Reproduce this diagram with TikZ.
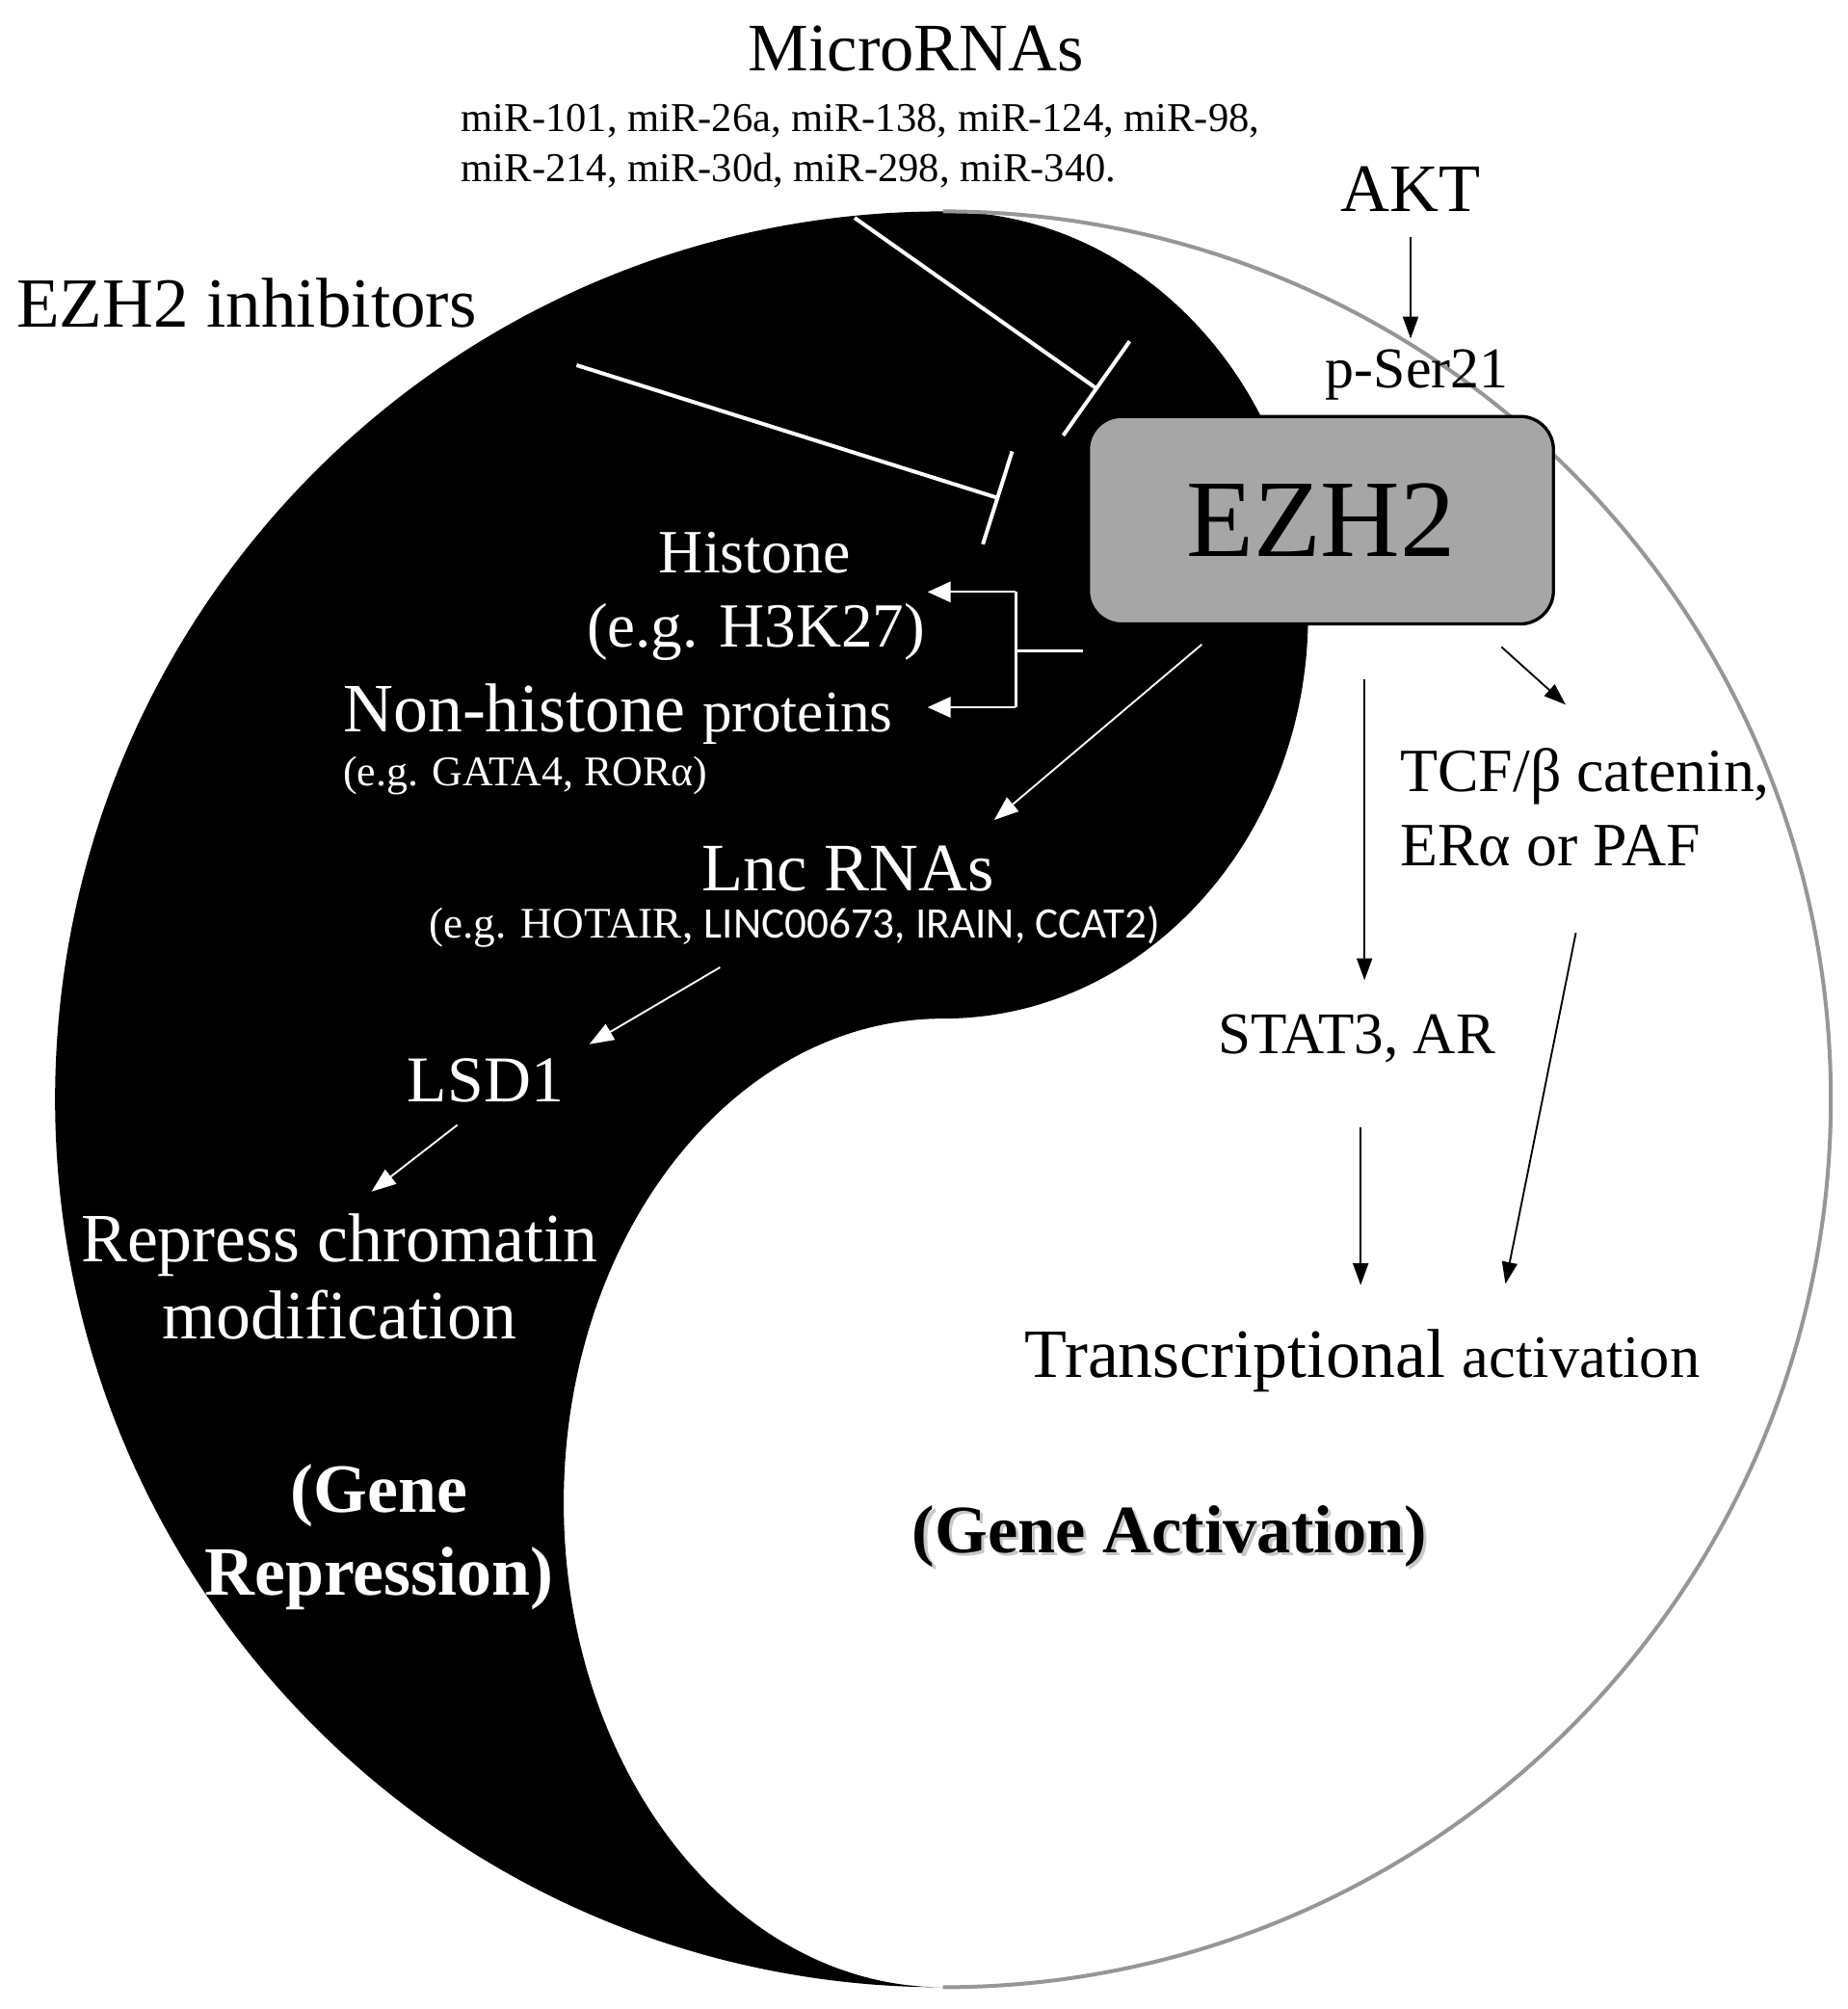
\documentclass[tikz,border=0pt]{standalone}
\usepackage{fontspec}
\setmainfont{Liberation Serif}
\newfontfamily\calib{Carlito}
\usetikzlibrary{arrows.meta}
\definecolor{ezgray}{RGB}{166,166,166}
\definecolor{ringgray}{RGB}{150,150,150}
\newcommand\fsz[1]{\fontsize{#1}{#1}\selectfont}
\begin{document}
\begin{tikzpicture}[x=1pt,y=-1pt,
  lbl/.style={inner sep=0pt, outer sep=0pt},
  wl/.style={lbl, text=white},
  bl/.style={lbl, text=black},
  inhib/.style={white, line width=3pt, -{Bar[width=#1, line width=3pt]}},
  warrow/.style={white, line width=1.4pt, -{Triangle[length=19pt, width=14pt]}},
  wbrarrow/.style={white, line width=1.6pt, -{Triangle[length=18pt, width=16pt]}},
  barrow/.style={black, line width=1.4pt, -{Triangle[length=17pt, width=12pt]}},
  ezbox/.style={draw=black, line width=2.5pt, fill=ezgray, rounded corners=26pt,
    minimum width=363pt, minimum height=162pt, inner sep=0pt},
]
\useasboundingbox (0,0) rectangle (1442,1568);
\fill[white] (0,0) rectangle (1442,1568);

% yin-yang
\fill[black] (736,165) arc[start angle=270, end angle=90, radius=693]
  arc[start angle=90, end angle=270, x radius=296, y radius=378]
  arc[start angle=90, end angle=-90, x radius=285, y radius=315] -- cycle;
\draw[ringgray, line width=3pt] (736,165) arc[start angle=-90, end angle=90, radius=693];

% EZH2 box
\node[ezbox, font=\fsz{86}] (ezh2) at (1031,406) {EZH2};

% top labels
\node[bl, font=\fsz{53}, anchor=base] (micro) at (715,55) {MicroRNAs};
\node[bl, font=\fsz{32}, anchor=base west] (mirsA) at (360,103)
  {miR-101, miR-26a, miR-138, miR-124, miR-98,};
\node[bl, font=\fsz{32}, anchor=base west] (mirsB) at (360,142)
  {miR-214, miR-30d, miR-298, miR-340.};
\node[bl, font=\fsz{53}, anchor=base] (akt) at (1101,165) {AKT};
\node[bl, font=\fsz{45}, anchor=base] (pser) at (1106,303) {p-Ser21};
\node[bl, font=\fsz{55}, anchor=base west] (inhtxt) at (13,255) {EZH2 inhibitors};

% repression side labels
\node[wl, font=\fsz{48}, anchor=base] (histone) at (589,447) {Histone};
\node[wl, font=\fsz{49}, anchor=base] (h3k27) at (590,505) {(e.g. H3K27)};
\node[wl, font=\fsz{54}, anchor=base west] (nonhist) at (268,571) {Non-histone {\fsz{46}proteins}};
\node[wl, font=\fsz{33}, anchor=base west] (gata) at (268,613) {(e.g. GATA4, RORα)};
\node[wl, font=\fsz{53}, anchor=base] (lnc) at (662,695) {Lnc RNAs};
\node[wl, font=\fsz{34}, anchor=base west] (lnceg) at (335,732) {(e.g. HOTAIR, {\calib LINC00673, IRAIN, CCAT2)}};
\node[wl, font=\fsz{51}, anchor=base] (lsd1) at (379,860) {LSD1};
\node[wl, font=\fsz{54}, anchor=base] (repressA) at (265,985) {Repress chromatin};
\node[wl, font=\fsz{54}, anchor=base] (repressB) at (265,1045) {modification};
\node[wl, font=\bfseries\fsz{54}, anchor=base] (generepA) at (296,1180) {(Gene};
\node[wl, font=\bfseries\fsz{54}, anchor=base] (generepB) at (296,1245) {Repression)};

% activation side labels
\node[bl, font=\fsz{48}, anchor=base west] (tcfA) at (1093,618) {TCF/β catenin,};
\node[bl, font=\fsz{48}, anchor=base west] (tcfB) at (1093,676) {ERα or PAF};
\node[bl, font=\fsz{46}, anchor=base] (stat3) at (1059,822) {STAT3, AR};
\node[bl, font=\fsz{54}, anchor=base west] (transcr) at (800,1075) {Transcriptional {\fsz{47}activation}};
\node[lbl, text=black!22, font=\bfseries\fsz{53}, anchor=base west] (gashadow) at (714.5,1214.5) {(Gene Activation)};
\node[bl, font=\bfseries\fsz{53}, anchor=base west] (geneact) at (712,1212) {(Gene Activation)};

% connector end points
\coordinate (miStart) at (667,170);   \coordinate (miEnd) at (857,304);
\coordinate (inStart) at (450,285);   \coordinate (inEnd) at (780,389);
\coordinate (brT) at (793,462); \coordinate (brB) at (793,552);
\coordinate (brM) at (793,508); \coordinate (brE) at (845,508);
\coordinate (hisTip) at (724,462); \coordinate (nonTip) at (724,552);
\coordinate (lncFrom) at (938,503); \coordinate (lncTip) at (776,640);
\coordinate (lsdFrom) at (562,755); \coordinate (lsdTip) at (460,815);
\coordinate (repFrom) at (357,878); \coordinate (repTip) at (290,930);
\coordinate (stFrom) at (1065,530); \coordinate (stTip) at (1065,765);
\coordinate (tcfFrom) at (1172,505); \coordinate (tcfTip) at (1222,550);
\coordinate (tcfOut) at (1230,728); \coordinate (trTipA) at (1175,1002);
\coordinate (stOut) at (1062,880); \coordinate (trTipB) at (1062,1003);

% connectors
\draw[barrow, shorten <=20pt, shorten >=9pt] (akt.south) -- (akt.south |- pser.north);
\draw[inhib=90pt] (miStart) -- (miEnd);
\draw[inhib=76pt] (inStart) -- (inEnd);
\draw[white, line width=1.6pt] (brT) -- (brB) (brM) -- (brE);
\draw[wbrarrow] (brT) -- (hisTip);
\draw[wbrarrow] (brB) -- (nonTip);
\draw[warrow] (lncFrom) -- (lncTip);
\draw[warrow] (lsdFrom) -- (lsdTip);
\draw[warrow] (repFrom) -- (repTip);
\draw[barrow] (stFrom) -- (stTip);
\draw[barrow] (tcfFrom) -- (tcfTip);
\draw[barrow] (tcfOut) -- (trTipA);
\draw[barrow] (stOut) -- (trTipB);
\end{tikzpicture}
\end{document}
